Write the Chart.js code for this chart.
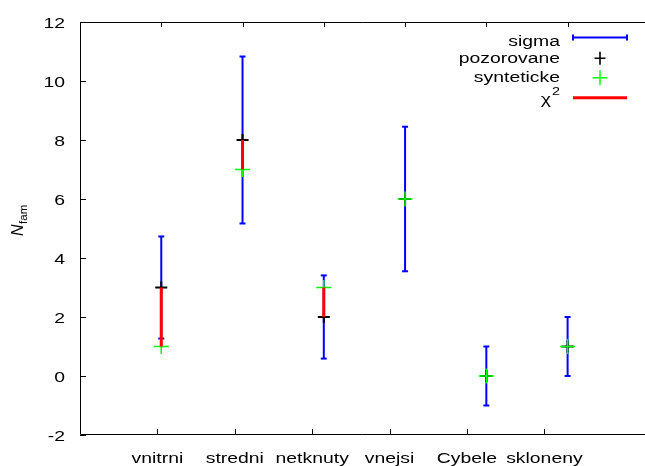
<!DOCTYPE html>
<html>
<head>
<meta charset="utf-8">
<script src="https://cdn.jsdelivr.net/npm/chart.js@4/dist/chart.umd.min.js"></script>
<style>
  html, body { margin: 0; padding: 0; background: #fff; }
  #wrap { width: 645px; height: 466px; }
</style>
</head>
<body>
<div id="wrap"><canvas id="c" width="645" height="466"></canvas></div>
<script>
// ---- data ----
const categories = ['vnitrni', 'stredni', 'netknuty', 'vnejsi', 'Cybele', 'skloneny'];
const tickPositions = [1, 2, 3, 4, 5, 6];
const dataX = [1.05, 2.1, 3.15, 4.2, 5.25, 6.3];
const observed = [3, 8, 2, 6, 0, 1];
const synthetic = [1, 7, 3, 6, 0, 1];
const sigmaLow = [1.27, 5.17, 0.59, 3.55, -1.0, 0.0];
const sigmaHigh = [4.73, 10.83, 3.41, 8.45, 1.0, 2.0];
const yTicks = [-2, 0, 2, 4, 6, 8, 10, 12];
const legendLabels = ['sigma', 'pozorovane', 'synteticke', 'χ'];

// ---- styles ----
const BLUE = '#0000ff', RED = '#ff0000', GREEN = '#00ff00', BLACK = '#000000';
const FONT = "'Liberation Sans', Arial, sans-serif";
const FS = 15.5, SX = 1.25;

// build segment data (gaps separate each bar)
const sigmaSeg = [];
const chiSeg = [];
const caps = [];
dataX.forEach((x, i) => {
  sigmaSeg.push({x: x, y: sigmaLow[i]}, {x: x, y: sigmaHigh[i]}, {x: x, y: null});
  chiSeg.push({x: x, y: observed[i]}, {x: x, y: synthetic[i]}, {x: x, y: null});
  caps.push({x: x, y: sigmaLow[i]}, {x: x, y: sigmaHigh[i]});
});
const obsPts = dataX.map((x, i) => ({x: x, y: observed[i]}));
const synPts = dataX.map((x, i) => ({x: x, y: synthetic[i]}));

function stretchText(ctx, text, x, y, align, size, style) {
  ctx.save();
  ctx.font = (style ? style + ' ' : '') + size + 'px ' + FONT;
  ctx.translate(x, y);
  ctx.scale(SX, 1);
  ctx.textAlign = align;
  ctx.textBaseline = 'alphabetic';
  ctx.fillStyle = '#000';
  ctx.fillText(text, 0, 0);
  ctx.restore();
}

const framePlugin = {
  id: 'frame',
  afterDatasetsDraw(chart) {
    const ctx = chart.ctx;
    const a = chart.chartArea;
    const xs = chart.scales.x, ys = chart.scales.y;
    ctx.save();
    ctx.strokeStyle = '#000';
    ctx.lineWidth = 1;
    ctx.beginPath();
    ctx.moveTo(a.right, a.top + 0.5);
    ctx.lineTo(a.left + 0.5, a.top + 0.5);
    ctx.lineTo(a.left + 0.5, a.bottom - 0.5);
    ctx.lineTo(a.right, a.bottom - 0.5);
    // y ticks
    yTicks.forEach(v => {
      const py = Math.round(ys.getPixelForValue(v)) + 0.5;
      ctx.moveTo(a.left, py); ctx.lineTo(a.left + 6, py);
    });
    // bottom ticks
    tickPositions.forEach(v => {
      const px = Math.round(xs.getPixelForValue(v)) + 0.5;
      ctx.moveTo(px, a.bottom); ctx.lineTo(px, a.bottom - 6);
    });
    // top ticks
    dataX.forEach(v => {
      const px = Math.round(xs.getPixelForValue(v)) + 0.5;
      ctx.moveTo(px, a.top); ctx.lineTo(px, a.top + 5);
    });
    ctx.stroke();
    ctx.restore();

    // tick labels
    yTicks.forEach(v => {
      stretchText(ctx, String(v), a.left - 15, ys.getPixelForValue(v) + 5.5, 'right', FS);
    });
    tickPositions.forEach((v, i) => {
      stretchText(ctx, categories[i], xs.getPixelForValue(v), 463, 'center', FS);
    });

    // y title: N_fam rotated
    ctx.save();
    ctx.translate(23, 236);
    ctx.rotate(-Math.PI / 2);
    ctx.fillStyle = '#000';
    ctx.textAlign = 'left';
    ctx.textBaseline = 'alphabetic';
    ctx.font = 'italic 16px ' + FONT;
    ctx.fillText('N', 0, 0);
    const w = ctx.measureText('N').width;
    ctx.font = '11.5px ' + FONT;
    ctx.fillText('fam', w + 0.5, 4);
    ctx.restore();

    // legend
    const tx = 560;
    const sx0 = 573, sx1 = 627, sxm = 600;
    const rows = [37.5, 58.3, 77.7, 97.7];
    const base = [46, 63, 82, 104];
    stretchText(ctx, legendLabels[0], tx, base[0], 'right', FS);
    stretchText(ctx, legendLabels[1], tx, base[1], 'right', FS);
    stretchText(ctx, legendLabels[2], tx, base[2], 'right', FS);
    stretchText(ctx, legendLabels[3], tx - 9, base[3], 'right', FS);
    stretchText(ctx, '2', tx, 95, 'right', 11.5);

    ctx.save();
    // sigma sample
    ctx.strokeStyle = BLUE; ctx.lineWidth = 2;
    ctx.beginPath();
    ctx.moveTo(sx0, rows[0]); ctx.lineTo(sx1, rows[0]);
    ctx.moveTo(sx0, rows[0] - 3); ctx.lineTo(sx0, rows[0] + 3);
    ctx.moveTo(sx1, rows[0] - 3); ctx.lineTo(sx1, rows[0] + 3);
    ctx.stroke();
    // black plus
    ctx.strokeStyle = BLACK; ctx.lineWidth = 1.6;
    ctx.beginPath();
    ctx.moveTo(sxm - 5.5, rows[1]); ctx.lineTo(sxm + 5.5, rows[1]);
    ctx.moveTo(sxm, rows[1] - 6.5); ctx.lineTo(sxm, rows[1] + 6.5);
    ctx.stroke();
    // green plus
    ctx.strokeStyle = GREEN; ctx.lineWidth = 1.4;
    ctx.beginPath();
    ctx.moveTo(sxm - 7.5, rows[2]); ctx.lineTo(sxm + 7.5, rows[2]);
    ctx.moveTo(sxm, rows[2] - 7.5); ctx.lineTo(sxm, rows[2] + 7.5);
    ctx.stroke();
    // red line
    ctx.strokeStyle = RED; ctx.lineWidth = 3;
    ctx.beginPath();
    ctx.moveTo(sx0, rows[3]); ctx.lineTo(sx1, rows[3]);
    ctx.stroke();
    ctx.restore();
  }
};

new Chart(document.getElementById('c'), {
  type: 'line',
  data: {
    datasets: [
      {
        label: 'sigma', data: sigmaSeg, borderColor: BLUE, borderWidth: 2,
        pointRadius: 0, spanGaps: false, order: 5, fill: false
      },
      {
        label: 'sigma caps', data: caps, showLine: false, pointStyle: 'line',
        pointRadius: 3, pointBorderColor: BLUE, pointBorderWidth: 2, borderColor: BLUE, order: 4
      },
      {
        label: 'pozorovane', data: obsPts, showLine: false, pointStyle: 'cross',
        pointRadius: 6, pointBorderColor: BLACK, pointBorderWidth: 2, borderColor: BLACK, order: 3
      },
      {
        label: 'synteticke', data: synPts, showLine: false, pointStyle: 'cross',
        pointRadius: 7.5, pointBorderColor: GREEN, pointBorderWidth: 1.5, borderColor: GREEN, order: 2
      },
      {
        label: 'chi2', data: chiSeg, borderColor: RED, borderWidth: 3,
        pointRadius: 0, spanGaps: false, order: 1, fill: false
      }
    ]
  },
  options: {
    responsive: false,
    animation: false,
    events: [],
    layout: { autoPadding: false, padding: { left: 80, right: 0, top: 22, bottom: 31 } },
    plugins: { legend: { display: false }, tooltip: { enabled: false } },
    scales: {
      x: { type: 'linear', min: 0, max: 7.3, display: false },
      y: { type: 'linear', min: -2, max: 12, display: false }
    }
  },
  plugins: [framePlugin]
});
</script>
</body>
</html>
